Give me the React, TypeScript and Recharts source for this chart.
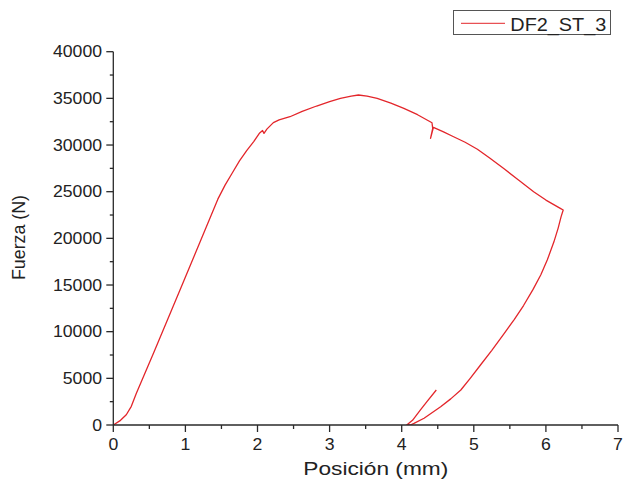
import React from 'react';
import { LineChart, Line, XAxis, YAxis } from 'recharts';

const seriesName = 'DF2_ST_3';
const xTitle = 'Posición (mm)';
const yTitle = 'Fuerza (N)';

const posicion = [
  0, 0.1, 0.18, 0.25, 0.32, 0.56, 0.97, 1.2, 1.45, 1.55, 1.65, 1.75, 1.85, 1.95, 2.03, 2.07, 2.09, 2.13,
  2.22, 2.3, 2.45, 2.62, 2.82, 3.0, 3.15, 3.3, 3.4, 3.52, 3.66, 3.85, 4.03, 4.22, 4.42, 4.43, 4.4,
  4.44, 4.58, 4.72, 4.88, 5.05, 5.22, 5.42, 5.62, 5.83, 6.0, 6.2, 6.24,
  6.21, 6.17, 6.11, 6.02, 5.93, 5.82, 5.69, 5.56, 5.42, 5.25, 5.09, 4.95, 4.82, 4.68, 4.54, 4.31, 4.17, 4.12,
  4.07, 4.15, 4.26, 4.35, 4.48,
];
const fuerza = [
  0, 500, 1100, 2000, 3400, 7750, 15300, 19550, 24200, 25700, 27000, 28300, 29400, 30400, 31300, 31550, 31250, 31700,
  32400, 32700, 33030, 33600, 34180, 34650, 35000, 35250, 35360, 35250, 35000, 34500, 33930, 33250, 32390, 31790, 30710,
  31890, 31400, 30890, 30300, 29550, 28600, 27450, 26250, 25000, 24100, 23210, 23040,
  22300, 21100, 19600, 17700, 16100, 14500, 12800, 11300, 9800, 8000, 6400, 5000, 3750, 2800, 1960, 720, 170, 0,
  0, 500, 1610, 2500, 3750,
];

const xTicks = [0, 0.5, 1, 1.5, 2, 2.5, 3, 3.5, 4, 4.5, 5, 5.5, 6, 6.5, 7];
const yTicks = [
  0, 2500, 5000, 7500, 10000, 12500, 15000, 17500, 20000, 22500, 25000, 27500, 30000, 32500, 35000, 37500, 40000,
];

const data = posicion.map((p, i) => ({ posicion: p, fuerza: fuerza[i] }));

const FONT = '"Liberation Sans", Arial, Helvetica, sans-serif';
const INK = '#222';
const AXIS = '#2a2a2a';
const RED = '#e3262b';

function XTick(props: any) {
  const { x, y, payload } = props;
  const v = Number(payload.value);
  const major = Math.abs(v - Math.round(v)) < 1e-6;
  const label = String(Math.round(v));
  return (
    <g>
      <line x1={x} x2={x} y1={y} y2={y + (major ? 7 : 4)} stroke={AXIS} strokeWidth={1.3} />
      {major && (
        <text
          x={x}
          y={y + 24.5}
          textAnchor="middle"
          fontSize={16}
          fontFamily={FONT}
          fill={INK}
          textLength={label.length * 9.8}
          lengthAdjust="spacingAndGlyphs"
        >
          {label}
        </text>
      )}
    </g>
  );
}

function YTick(props: any) {
  const { x, y, payload } = props;
  const v = payload.value;
  const major = v % 5000 === 0;
  const label = String(v);
  return (
    <g>
      <line x1={x - (major ? 7 : 3.5)} x2={x} y1={y} y2={y} stroke={AXIS} strokeWidth={1.3} />
      {major && (
        <text
          x={x - 11.3}
          y={y + 5.5}
          textAnchor="end"
          fontSize={16}
          fontFamily={FONT}
          fill={INK}
          textLength={label.length * 9.8}
          lengthAdjust="spacingAndGlyphs"
        >
          {label}
        </text>
      )}
    </g>
  );
}

const renderXTitle = () => (
  <text
    x={375.8}
    y={475}
    textAnchor="middle"
    fontSize={19}
    fontFamily={FONT}
    fill={INK}
    textLength={145}
    lengthAdjust="spacingAndGlyphs"
  >
    {xTitle}
  </text>
);

const renderYTitle = () => (
  <text
    x={0}
    y={0}
    transform="translate(25,237.5) rotate(-90)"
    textAnchor="middle"
    fontSize={18.5}
    fontFamily={FONT}
    fill={INK}
    textLength={85}
    lengthAdjust="spacingAndGlyphs"
  >
    {yTitle}
  </text>
);

export default function App() {
  return (
    <div style={{ position: 'fixed', left: 0, top: 0, width: 624, height: 486, background: '#fff' }}>
      <LineChart
        width={624}
        height={486}
        data={data}
        margin={{ top: 51.7, right: 6, bottom: 21, left: 53.3 }}
        style={{ overflow: 'visible' }}
      >
        <XAxis
          dataKey="posicion"
          type="number"
          domain={[0, 7]}
          ticks={xTicks}
          interval={0}
          allowDataOverflow
          tickLine={false}
          tickSize={0}
          tickMargin={0}
          tick={XTick}
          axisLine={{ stroke: AXIS, strokeWidth: 1.3 }}
          height={40}
          label={renderXTitle}
        />
        <YAxis
          type="number"
          domain={[0, 40000]}
          ticks={yTicks}
          interval={0}
          allowDataOverflow
          tickLine={false}
          tickSize={0}
          tickMargin={0}
          tick={YTick}
          axisLine={{ stroke: AXIS, strokeWidth: 1.3 }}
          width={60}
          label={renderYTitle}
        />
        <Line
          dataKey="fuerza"
          name={seriesName}
          type="linear"
          stroke={RED}
          strokeWidth={1.3}
          strokeLinejoin="round"
          dot={false}
          activeDot={false}
          isAnimationActive={false}
        />
      </LineChart>
      <div
        style={{
          position: 'absolute',
          left: 452.7,
          top: 10,
          width: 158,
          height: 24.5,
          border: '1px solid #555',
          boxSizing: 'border-box',
          background: '#fff',
        }}
      >
        <svg width={156} height={22.5} style={{ display: 'block', overflow: 'visible' }}>
          <line x1={7} x2={51} y1={12.3} y2={12.3} stroke={RED} strokeWidth={1} />
          <text
            x={56.3}
            y={19.7}
            fontSize={19}
            fontFamily={FONT}
            fill={INK}
            textLength={96}
            lengthAdjust="spacingAndGlyphs"
          >
            {seriesName}
          </text>
        </svg>
      </div>
    </div>
  );
}
